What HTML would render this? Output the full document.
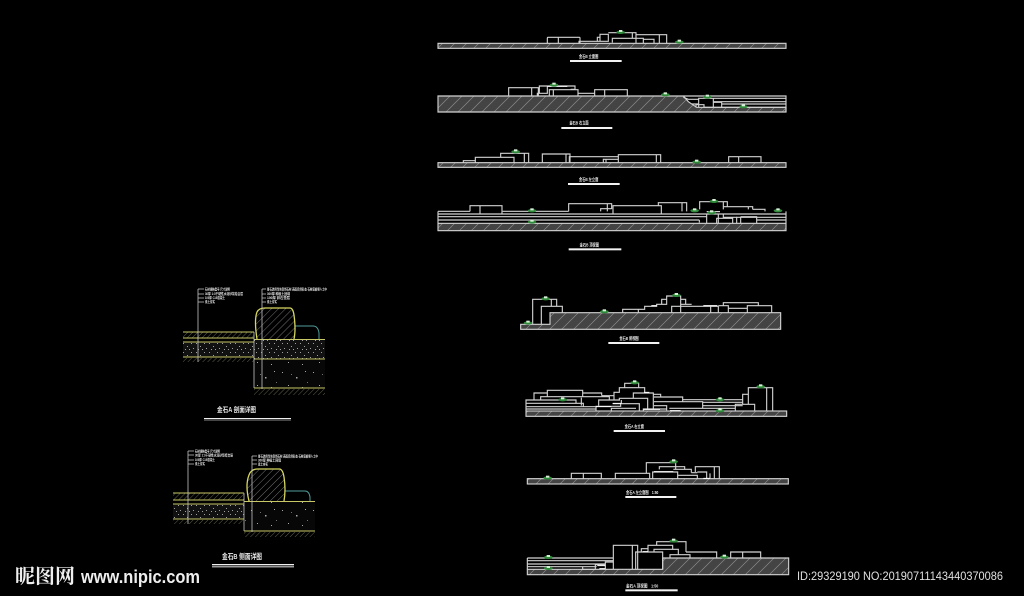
<!DOCTYPE html>
<html><head><meta charset="utf-8">
<style>
html,body{margin:0;padding:0;background:#000;width:1024px;height:596px;overflow:hidden}
svg{display:block}
.l{fill:none;stroke:#d2d2d2;stroke-width:3.4}
.b{fill:url(#h);stroke:#d2d2d2;stroke-width:3.4}
.t{fill:#e8e8e8;font-family:"Liberation Sans","Noto Sans CJK SC",sans-serif;font-weight:bold}
.s{fill:#e4e4e4;font-family:"Liberation Sans","Noto Sans CJK SC",sans-serif;font-size:3.4px;font-weight:bold}
.y{fill:none;stroke:#c8c866;stroke-width:1}
.w{fill:none;stroke:#c4c4c4;stroke-width:.8}
</style></head>
<body>
<svg width="1024" height="596" viewBox="0 0 1024 596" xmlns="http://www.w3.org/2000/svg">
<defs>
<pattern id="h" width="36" height="36" patternUnits="userSpaceOnUse"><rect width="36" height="36" fill="#444"/><path d="M0 36L36 0M-9 9L9 -9M27 45L45 27" stroke="#8c8c8c" stroke-width="2"/></pattern>
<pattern id="d" width="3.5" height="3.5" patternUnits="userSpaceOnUse" patternTransform="rotate(45)"><path d="M0 0V3.5" stroke="#8a8a6a" stroke-width=".7"/></pattern>
<pattern id="r" width="5" height="5" patternUnits="userSpaceOnUse" patternTransform="rotate(45)"><path d="M0 0V5" stroke="#8f8f8f" stroke-width=".8"/></pattern>
<pattern id="g" width="13" height="9" patternUnits="userSpaceOnUse"><rect width="13" height="9" fill="#111"/><g fill="#a0a0a0"><rect x="1" y="1" width="1" height="1"/><rect x="5" y="4" width="1" height="1"/><rect x="9" y="1" width="1" height="1"/><rect x="11" y="6" width="1" height="1"/><rect x="3" y="7" width="1" height="1"/><rect x="7" y="7" width="1" height="1"/></g></pattern>
<pattern id="g2" width="31" height="23" patternUnits="userSpaceOnUse"><rect width="31" height="23" fill="#070707"/><g fill="#aaa"><rect x="3" y="4" width="1" height="1"/><rect x="17" y="9" width="1.5" height="1.5"/><rect x="26" y="3" width="1" height="1"/><rect x="9" y="17" width="1" height="1"/><rect x="23" y="19" width="1" height="1"/><rect x="12" y="6" width=".8" height=".8"/><rect x="28" y="14" width=".8" height=".8"/></g></pattern>
<g id="p"><ellipse cx="0" cy="2" rx="13" ry="5" fill="#2f8a3a"/><rect x="-5" y="-5" width="10" height="6" fill="#d8efd8"/></g>
</defs>
<rect width="1024" height="596" fill="#000"/>

<!-- Panels 1-2 -->
<g transform="translate(430,20) scale(.33333)">
<rect class="b" x="24" y="70" width="1044" height="15"/>
<path class="l" d="M352 70V54Q352 52 354 52H448Q450 52 450 54V70M385 52V70M447 70V64H510M502 64V52H510V43H535V64H510V43M535 38H618V54M607 38V54M618 44H710V70M688 44V70M547 68V55H640V70M618 54V70M640 58H672V70"/>
<use href="#p" x="572" y="35"/><use href="#p" x="748" y="64"/>
<text class="t" x="447" y="114" font-size="14" textLength="58" lengthAdjust="spacingAndGlyphs">金石B 立面图</text>
<rect x="420" y="120" width="155" height="6" fill="#f2f2f2"/>
<path d="M24 228H760L775 245L800 262H1068V276H24Z" fill="url(#h)" stroke="#d2d2d2" stroke-width="3.4"/>
<path class="l" d="M760 228H1068V276M850 235H1068M850 245H1068M875 252H1068M820 262H1068M236 228V203H325V228M305 203V228M322 228V220H352V198H328V220M352 198H435V208H422M358 228V209H444V228M370 209V228M444 220H494M494 228V209H592V228M524 209V228M806 262V235H850V262M850 247H875V262M798 262V254H822V262M760 232L775 238H806M785 252H806"/>
<path d="M352 199H412" stroke="#fff" stroke-width="3"/>
<use href="#p" x="372" y="193"/><use href="#p" x="706" y="222"/><use href="#p" x="832" y="229"/><use href="#p" x="940" y="258"/>
<text class="t" x="418" y="314" font-size="14" textLength="58" lengthAdjust="spacingAndGlyphs">金石B 右立面</text>
<rect x="394" y="321" width="153" height="6" fill="#f2f2f2"/>
</g>

<!-- Panels 3-4 -->
<g transform="translate(430,140) scale(.33333)">
<rect class="b" x="24" y="68" width="1044" height="14"/>
<path class="l" d="M100 68V62H136M136 68V52H252V68M212 52V40H296V68M283 40V68M337 68V42H420V68M408 42V68M418 68V50H565M520 68V58H565M528 58V68M565 68V44H692V68M679 44V68M896 68V50H993V68M926 50V68"/>
<use href="#p" x="257" y="33"/><use href="#p" x="800" y="64"/>
<text class="t" x="447" y="123" font-size="14" textLength="58" lengthAdjust="spacingAndGlyphs">金石B 左立面</text>
<rect x="414" y="129" width="155" height="6" fill="#f2f2f2"/>
<rect x="24" y="250" width="1044" height="22" fill="url(#h)" stroke="#d2d2d2" stroke-width="3.4"/>
<path class="l" d="M24 214V250M1068 214V250M24 214H120M218 214H416M24 222H830M24 230H830M24 240H808M880 222H1068M880 232H1068M980 240H1068M120 214V197H216V221M150 197V221M416 214V191H545V207M532 191V214M512 214V206H545M549 221V197H694V221M685 197V188H770V214M756 188V214M809 208V185H892V200M880 185V208M880 200H968V208M955 200V208M968 208H1005V214M830 250V222H865V250M865 222H880V234M860 250V235H908V250M920 230V250M932 230H980V250M932 230V250M808 240V248"/>
<path d="M830 215H870" stroke="#fff" stroke-width="3"/>
<use href="#p" x="852" y="182"/><use href="#p" x="794" y="210"/><use href="#p" x="845" y="216"/><use href="#p" x="1044" y="210"/><use href="#p" x="306" y="210"/><use href="#p" x="306" y="244"/>
<text class="t" x="449" y="320" font-size="14" textLength="58" lengthAdjust="spacingAndGlyphs">金石B 顶视图</text>
<rect x="416" y="325" width="158" height="6" fill="#f2f2f2"/>
</g>

<!-- Panels 5-6 -->
<g transform="translate(510,285) scale(.33333)">
<path d="M32 118H120V83H812V133H32Z" fill="url(#h)" stroke="#d2d2d2" stroke-width="3.4"/>
<path class="l" d="M68 118V43H140V64M124 43V64M94 118V64H157V83M338 83V73H385V83M385 73H404V64H440V58H470V33H512V64M455 58V43H470M512 43H527V58M485 83V64H625V83M512 58H545M512 64V83M602 64V83M625 62H655V83M640 62V53H745V62M655 70H712M712 83V62H785V83"/>
<path d="M580 62H622M424 62H440" stroke="#fff" stroke-width="3"/>
<use href="#p" x="54" y="112"/><use href="#p" x="107" y="39"/><use href="#p" x="283" y="78"/><use href="#p" x="499" y="29"/>
<text class="t" x="328" y="165" font-size="14" textLength="58" lengthAdjust="spacingAndGlyphs">金石B 俯视图</text>
<rect x="295" y="171" width="153" height="6" fill="#f2f2f2"/>
<rect class="b" x="48" y="378" width="782" height="16"/>
<path class="l" d="M48 378V345H198V355M48 355H220V365M48 365H260M48 372H260M72 345V324H112M112 335V316H218V335M218 324H275V332M92 345V335H236M218 335H298V345M214 362V338M266 362V345H330M275 332H312V345M312 345V322H328V308H404V322M344 308V295H386V308M308 356H334V345M258 378V364H332V356H388V378M304 378V370H378M328 345V340H413V372M370 340V324H430V372M430 328H452V336M432 336H518V350M432 350H578V370M432 362H470V376M478 370H676M578 352H698M578 362H698M518 344H698M698 358V328H716M676 378V358H734V378M715 358V308H788V378M770 308V378M400 378V372H470"/>
<path d="M258 365H304M308 355H334M402 322H418M400 373H450M480 377H512" stroke="#fff" stroke-width="3"/>
<use href="#p" x="374" y="291"/><use href="#p" x="158" y="342"/><use href="#p" x="630" y="342"/><use href="#p" x="630" y="375"/><use href="#p" x="752" y="303"/>
<text class="t" x="344" y="429" font-size="14" textLength="58" lengthAdjust="spacingAndGlyphs">金石A 右立面</text>
<rect x="311" y="435" width="154" height="6" fill="#f2f2f2"/>
</g>

<!-- Panels 7-8 -->
<g transform="translate(510,450) scale(.33333)">
<rect class="b" x="52" y="86" width="783" height="16"/>
<path class="l" d="M184 86V70H274V86M220 70V86M316 86V70H419V86M409 70V38H497V58M448 58V50H524V58M490 58H544V68M428 86V66H503V86M503 76H562V86M544 68H562M556 66V50H628V86M613 50V86M562 66H590V86M600 70V86"/>
<path d="M432 65H490M580 85H600" stroke="#fff" stroke-width="3"/>
<use href="#p" x="113" y="82"/><use href="#p" x="491" y="33"/>
<text class="t" x="348" y="132" font-size="14" textLength="97" lengthAdjust="spacingAndGlyphs">金石A 左立面图　1:50</text>
<rect x="346" y="138" width="153" height="6" fill="#f2f2f2"/>
<path d="M52 358H458V324H836V374H52Z" fill="url(#h)" stroke="#d2d2d2" stroke-width="3.4"/>
<path class="l" d="M52 324V358M52 324H310M52 332H310M52 342H286M52 350H260M310 358V286H383V358M367 286V358M377 358V306H458V358M394 306V296H414M414 306V286H488V298M440 286V275H528V306M432 306V298H505V314M480 324V314H540V324M528 306H620V324M662 324V306H752V324M698 306V324M286 358V336H310M256 358V344H286M218 350V358H256"/>
<path d="M262 347H286M268 356H286M398 305H414" stroke="#fff" stroke-width="3"/>
<use href="#p" x="115" y="320"/><use href="#p" x="491" y="271"/><use href="#p" x="643" y="319"/><use href="#p" x="115" y="353"/>
<text class="t" x="348" y="412" font-size="14" textLength="97" lengthAdjust="spacingAndGlyphs">金石A 顶视图　1:50</text>
<rect x="346" y="418" width="157" height="6" fill="#f2f2f2"/>
</g>

<!-- Detail A -->
<g>
<rect x="183" y="332" width="71" height="6" fill="url(#d)"/>
<rect x="183" y="342" width="71" height="15" fill="url(#g)"/>
<rect x="183" y="358" width="71" height="4" fill="url(#d)"/>
<rect x="254" y="340" width="71" height="19" fill="url(#g)"/>
<rect x="254" y="360" width="71" height="28" fill="url(#g2)"/>
<rect x="254" y="389" width="71" height="6" fill="url(#d)"/>
<path d="M257 339Q254 320 257 312Q259 308 265 308H290Q293 308 294 315Q296 330 294 339Z" fill="url(#r)"/>
<path d="M295 326H313Q318 326 319 333V339" fill="none" stroke="#4f9c9c"/>
<path d="M257 339Q254 320 257 312Q259 308 265 308H290Q293 308 294 315Q296 330 294 339" fill="none" stroke="#d6d660" stroke-width="1.3"/>
<path class="y" d="M183 332H254M183 338H254M183 342H254M254 339.5H325M183 357H254M254 359H325M254 388H325"/>
<path class="w" d="M254 332V361M254 361V388M198 289V362M262 289V389M198 289H204M198 294H204M198 298H204M198 302H204M262 289H266M262 294H266M262 298H266M262 302H266"/>
<text class="s" x="205" y="290.500" textLength="25" lengthAdjust="spacingAndGlyphs">石材规格型号 尺寸说明</text>
<text class="s" x="205" y="295" textLength="38" lengthAdjust="spacingAndGlyphs">30厚 1:3干硬性水泥砂浆结合层</text>
<text class="s" x="205" y="299" textLength="20" lengthAdjust="spacingAndGlyphs">100厚 C15混凝土</text>
<text class="s" x="205" y="303" textLength="10" lengthAdjust="spacingAndGlyphs">素土夯实</text>
<text class="s" x="267" y="290.500" textLength="60" lengthAdjust="spacingAndGlyphs">景石选用当地自然石材 表面自然形态 石材底部埋入土中</text>
<text class="s" x="267" y="295" textLength="23" lengthAdjust="spacingAndGlyphs">300厚 种植土回填</text>
<text class="s" x="267" y="299" textLength="23" lengthAdjust="spacingAndGlyphs">100厚 碎石垫层</text>
<text class="s" x="267" y="303" textLength="10" lengthAdjust="spacingAndGlyphs">素土夯实</text>
<text class="t" x="217" y="412" font-size="7" textLength="39" lengthAdjust="spacingAndGlyphs">金石A 剖面详图</text>
<rect x="204" y="418" width="87" height="1" fill="#eee"/>
<rect x="204" y="419.500" width="87" height="1" fill="#888"/>
</g>

<!-- Detail B -->
<g>
<rect x="173" y="493" width="71" height="7" fill="url(#d)"/>
<rect x="173" y="504" width="71" height="15" fill="url(#g)"/>
<rect x="173" y="520" width="71" height="4" fill="url(#d)"/>
<rect x="244" y="502" width="71" height="29" fill="url(#g2)"/>
<rect x="244" y="532" width="71" height="5" fill="url(#d)"/>
<path d="M249 501Q245 485 249 475Q251 469 258 469H280Q283 470 284 477Q286 490 284 501Z" fill="url(#r)"/>
<path d="M285 491H305Q309 491 310 497V501" fill="none" stroke="#4f9c9c"/>
<path d="M249 501Q245 485 249 475Q251 469 258 469H280Q283 470 284 477Q286 490 284 501" fill="none" stroke="#d6d660" stroke-width="1.3"/>
<path class="y" d="M173 493H244M173 500H244M173 504H244M244 501.500H315M173 519H244M244 531H315"/>
<path class="w" d="M244 493V531M188 451V524M252 456V532M188 451H194M188 455H194M188 460H194M188 464H194M252 456H257M252 460H257M252 464H257"/>
<text class="s" x="195" y="452.500" textLength="25" lengthAdjust="spacingAndGlyphs">石材规格型号 尺寸说明</text>
<text class="s" x="195" y="456.500" textLength="38" lengthAdjust="spacingAndGlyphs">30厚 1:3干硬性水泥砂浆结合层</text>
<text class="s" x="195" y="461" textLength="20" lengthAdjust="spacingAndGlyphs">100厚 C15混凝土</text>
<text class="s" x="195" y="465" textLength="10" lengthAdjust="spacingAndGlyphs">素土夯实</text>
<text class="s" x="258" y="457.500" textLength="60" lengthAdjust="spacingAndGlyphs">景石选用当地自然石材 表面自然形态 石材底部埋入土中</text>
<text class="s" x="258" y="461.500" textLength="23" lengthAdjust="spacingAndGlyphs">300厚 种植土回填</text>
<text class="s" x="258" y="465.500" textLength="10" lengthAdjust="spacingAndGlyphs">素土夯实</text>
<text class="t" x="222" y="559" font-size="7.500" textLength="40" lengthAdjust="spacingAndGlyphs">金石B 侧面详图</text>
<rect x="212" y="564" width="82" height="1" fill="#eee"/>
<rect x="212" y="565.500" width="82" height="2" fill="#999"/>
</g>

<!-- Watermark -->
<text x="15" y="583" font-size="20" font-weight="bold" fill="#efefef" font-family="'Noto Serif CJK SC','Noto Sans CJK SC',sans-serif" textLength="60" lengthAdjust="spacingAndGlyphs">昵图网</text>
<text x="81" y="583" font-size="18" font-weight="bold" fill="#efefef" font-family="'Liberation Sans',sans-serif" textLength="119" lengthAdjust="spacingAndGlyphs">www.nipic.com</text>
<text x="797" y="580" font-size="11.500" fill="#e0e0e0" font-family="'Liberation Sans',sans-serif" textLength="206" lengthAdjust="spacingAndGlyphs">ID:29329190 NO:20190711143440370086</text>
</svg>
</body></html>
